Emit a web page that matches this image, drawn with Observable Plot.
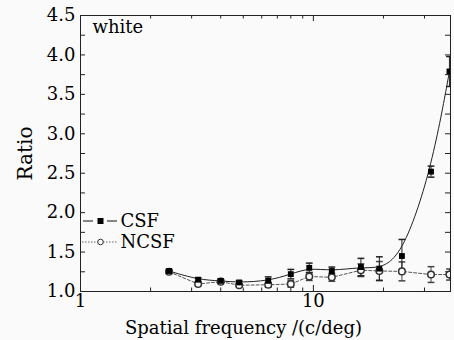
<!DOCTYPE html>
<html><head><meta charset="utf-8">
<script src="https://cdn.jsdelivr.net/npm/d3@7"></script>
<script src="https://cdn.jsdelivr.net/npm/@observablehq/plot@0.6"></script>
<style>
html,body{margin:0;padding:0;background:#fafafa;}
</style></head><body><div id="chart"></div>
<script>
// ---- data ----
const freq    = [2.4, 3.2, 4.0, 4.8, 6.4, 8.0, 9.6, 12.0, 16.0, 19.2, 24.0, 32.0, 38.4];
const csf     = [1.26, 1.15, 1.135, 1.115, 1.135, 1.22, 1.30, 1.26, 1.31, 1.29, 1.45, 2.52, 3.79];
const csfErr  = [0.02, 0.02, 0.02, 0.02, 0.05, 0.06, 0.06, 0.05, 0.11, 0.15, 0.21, 0.07, 0.19];
const ncsf    = [1.25, 1.095, 1.125, 1.08, 1.085, 1.095, 1.19, 1.18, 1.27, 1.26, 1.255, 1.215, 1.215];
const ncsfErr = [0.02, 0.02, 0.02, 0.02, 0.03, 0.04, 0.05, 0.05, 0.08, 0.12, 0.12, 0.10, 0.07];
const yMajorTicks = [1.0, 1.5, 2.0, 2.5, 3.0, 3.5, 4.0, 4.5];
const yMinorTicks = [1.25, 1.75, 2.25, 2.75, 3.25, 3.75, 4.25];
const xLabelTicks = [1, 10];
const xMajorTicks = [10];
const xMinorTicks = [2, 3, 4, 5, 6, 7, 8, 9, 20, 30];
const seriesNames = ["CSF", "NCSF"];
const panelLabel = "white";
const xTitle = "Spatial frequency /(c/deg)";
const yTitle = "Ratio";

// ---- layout ----
const W = 454, H = 340, mL = 80, mR = 4, mT = 15, mB = 49;
const pw = W - mL - mR, ph = H - mT - mB;
const bg = "#fafafa";

const csfData = freq.map((f, i) => ({f, v: csf[i], e: csfErr[i]}));
const ncsfData = freq.map((f, i) => ({f, v: ncsf[i], e: ncsfErr[i]}));
const capSymbol = {draw(ctx, size) { const r = Math.sqrt(size / Math.PI); ctx.moveTo(-r, 0); ctx.lineTo(r, 0); }};
const yAll = yMajorTicks.concat(yMinorTicks);

const plot = Plot.plot({
  width: W, height: H, marginLeft: mL, marginRight: mR, marginTop: mT, marginBottom: mB,
  style: {fontFamily: "DejaVu Serif", fontSize: "18px", background: bg, color: "#000"},
  x: {type: "log", domain: [1, 38.8], axis: null},
  y: {domain: [1, 4.5], axis: null},
  marks: [
    // tick marks pointing inward on all four sides
    Plot.ruleY(yAll, {insetRight: pw - 5, stroke: "#222"}),
    Plot.ruleY(yAll, {insetLeft: pw - 5, stroke: "#222"}),
    Plot.ruleX(xMajorTicks, {insetTop: ph - 6, stroke: "#222"}),
    Plot.ruleX(xMajorTicks, {insetBottom: ph - 6, stroke: "#222"}),
    Plot.ruleX(xMinorTicks, {insetTop: ph - 3.5, stroke: "#222"}),
    Plot.ruleX(xMinorTicks, {insetBottom: ph - 3.5, stroke: "#222"}),
    Plot.frame({stroke: "#222"}),
    Plot.axisY({ticks: yMajorTicks, tickSize: 0, tickPadding: 5, tickFormat: d3.format(".1f"), label: null}),
    Plot.axisX({ticks: xLabelTicks, tickSize: 0, tickPadding: 3, tickFormat: d => String(d), label: null}),
    Plot.text([yTitle], {frameAnchor: "left", rotate: -90, textAnchor: "middle", lineAnchor: "middle", dx: -55, dy: 0, fontSize: 20}),
    Plot.text([xTitle], {frameAnchor: "bottom", textAnchor: "middle", lineAnchor: "middle", dx: -22, dy: 37}),
    Plot.text([panelLabel], {frameAnchor: "top-left", dx: 12, dy: 12, textAnchor: "start", lineAnchor: "middle"}),
    // NCSF error bars + dashed line
    Plot.ruleX(ncsfData, {x: "f", y1: d => d.v - d.e, y2: d => d.v + d.e, stroke: "#444", clip: true}),
    Plot.dot(ncsfData, {x: "f", y: d => d.v - d.e, symbol: capSymbol, r: 3.4, stroke: "#444", clip: true}),
    Plot.dot(ncsfData, {x: "f", y: d => d.v + d.e, symbol: capSymbol, r: 3.4, stroke: "#444", clip: true}),
    Plot.line(ncsfData, {x: "f", y: "v", stroke: "#555", strokeWidth: 1, strokeDasharray: "3,2", clip: true}),
    // CSF error bars + smooth line
    Plot.ruleX(csfData, {x: "f", y1: d => d.v - d.e, y2: d => d.v + d.e, stroke: "#222", clip: true}),
    Plot.dot(csfData, {x: "f", y: d => d.v - d.e, symbol: capSymbol, r: 3.4, stroke: "#222", clip: true}),
    Plot.dot(csfData, {x: "f", y: d => d.v + d.e, symbol: capSymbol, r: 3.4, stroke: "#222", clip: true}),
    Plot.line(csfData, {x: "f", y: "v", curve: "basis", stroke: "#222", strokeWidth: 1, clip: true}),
    // markers
    Plot.dot(ncsfData, {x: "f", y: "v", r: 3.3, fill: bg, stroke: "#333", clip: true}),
    Plot.dot(csfData, {x: "f", y: "v", symbol: "square", r: 3.3, fill: "#000", stroke: "none", clip: true})
  ]
});

// ---- legend (inside the frame, lower left) ----
const svg = d3.select(plot);
const lg = svg.append("g").attr("font-family", "DejaVu Serif").attr("font-size", 18).attr("text-anchor", "start");
const items = [
  {name: seriesNames[0], y: 221, solid: true},
  {name: seriesNames[1], y: 242, solid: false}
];
items.forEach(it => {
  if (it.solid) {
    lg.append("line").attr("x1", 83).attr("x2", 93).attr("y1", it.y).attr("y2", it.y).attr("stroke", "#111");
    lg.append("line").attr("x1", 107).attr("x2", 117).attr("y1", it.y).attr("y2", it.y).attr("stroke", "#111");
    lg.append("rect").attr("x", 97.5).attr("y", it.y - 3).attr("width", 6).attr("height", 6).attr("fill", "#000");
  } else {
    lg.append("line").attr("x1", 82).attr("x2", 118).attr("y1", it.y).attr("y2", it.y).attr("stroke", "#666").attr("stroke-dasharray", "1.5,1.5");
    lg.append("circle").attr("cx", 100.5).attr("cy", it.y).attr("r", 2.8).attr("fill", bg).attr("stroke", "#333");
  }
  lg.append("text").attr("x", 120.5).attr("y", it.y).attr("dy", "0.35em").attr("fill", "#000").text(it.name);
});

document.getElementById("chart").appendChild(plot);
</script>
</body></html>
